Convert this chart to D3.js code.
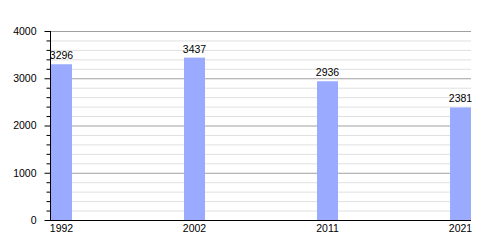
<!DOCTYPE html>
<html><head><meta charset="utf-8">
<script src="https://cdn.jsdelivr.net/npm/d3@7"></script>
<style>body{margin:0;background:#fff}svg{display:block;font-family:"Liberation Sans",Arial,sans-serif}</style>
</head><body><svg id="c" width="500" height="250"></svg>
<script>
const years = ["1992","2002","2011","2021"];
const population = [3296,3437,2936,2381];
const majorTicks = [0,1000,2000,3000,4000];

(function(){
const svg = d3.select("#c");
const mLeft = 50, mRight = 471, mTop = 31, mBottom = 220, barW = 21, fs = 10.5;
const y = d3.scaleLinear().domain([0,4000]).range([mBottom, mTop]);
const x = d3.scalePoint().domain(years).range([mLeft+1, mRight-barW]);

const minor = d3.range(0,4001,200).filter(v=>v%1000!==0);
svg.append("g").selectAll("line").data(minor).join("line")
  .attr("x1",mLeft).attr("x2",mRight).attr("y1",d=>y(d)+0.5).attr("y2",d=>y(d)+0.5)
  .attr("stroke","#e0e0e0").attr("stroke-width",1);
svg.append("g").selectAll("line").data(majorTicks.filter(v=>v>0)).join("line")
  .attr("x1",mLeft).attr("x2",mRight).attr("y1",d=>y(d)+0.5).attr("y2",d=>y(d)+0.5)
  .attr("stroke","#a0a0a0").attr("stroke-width",1);

svg.append("g").selectAll("rect").data(years).join("rect")
  .attr("x",d=>x(d)).attr("width",barW)
  .attr("y",(d,i)=>y(population[i])).attr("height",(d,i)=>mBottom-y(population[i]))
  .attr("fill","#99aaff");

svg.append("g").selectAll("text").data(years).join("text")
  .attr("x",d=>x(d)+barW/2).attr("y",(d,i)=>y(population[i])-5)
  .attr("text-anchor","middle").attr("font-size",fs).attr("fill","#000")
  .text((d,i)=>population[i]);

const ya = d3.axisLeft(y).tickValues(majorTicks).tickSize(6).tickFormat(d3.format("d"));
const gy = svg.append("g").attr("transform",`translate(${mLeft+0.5},0)`).call(ya);
gy.select(".domain").attr("d",`M0,${mTop}V${mBottom}`).attr("stroke","#000");
gy.selectAll(".tick text").attr("font-size",fs).attr("font-family","Liberation Sans, Arial, sans-serif").attr("x",-14);
gy.selectAll(".tick line").attr("stroke","#000");
const yMinor = d3.axisLeft(y).tickValues(minor).tickSize(4).tickFormat("");
const gym = svg.append("g").attr("transform",`translate(${mLeft+0.5},0)`).call(yMinor);
gym.select(".domain").remove();

svg.append("line").attr("x1",mLeft).attr("x2",mRight).attr("y1",mBottom+0.5).attr("y2",mBottom+0.5).attr("stroke","#000");
svg.append("g").selectAll("text").data(years).join("text")
  .attr("x",d=>x(d)+barW/2).attr("y",mBottom+12)
  .attr("text-anchor","middle").attr("font-size",fs).text(d=>d);
})();
</script></body></html>
